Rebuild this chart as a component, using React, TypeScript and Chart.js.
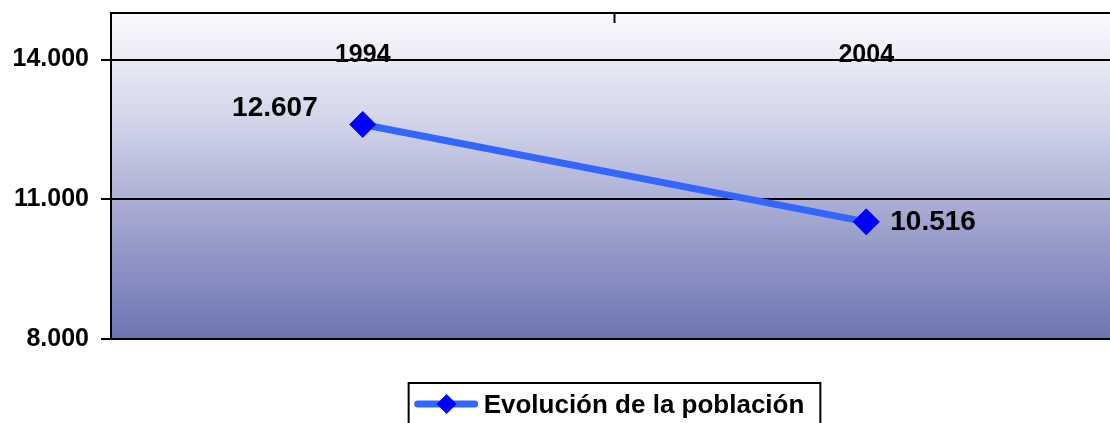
import React, { useEffect, useRef } from "react";
import { Chart, registerables } from "chart.js";

Chart.register(...registerables);

const categories = ["1994", "2004"];
const seriesName = "Evolución de la población";
const seriesValues = [12607, 10516];
const yTickValues = [8000, 11000, 14000];
const yMin = 8000;
const yMax = 15000;

const FONT = "'Liberation Sans', Arial, sans-serif";

function fmt(v: number): string {
  return String(Math.round(v)).replace(/\B(?=(\d{3})+(?!\d))/g, ".");
}

const decorPlugin = {
  id: "decor",
  afterLayout(chart: any) {
    const lg = chart.legend;
    if (lg) {
      lg.left = chart.chartArea.left;
      lg.right = chart.chartArea.right - 10;
    }
  },
  beforeDraw(chart: any) {
    const { ctx, chartArea } = chart;
    const g = ctx.createLinearGradient(0, chartArea.top, 0, chartArea.bottom);
    g.addColorStop(0, "#fbfbfe");
    g.addColorStop(0.33, "#d2d5e9");
    g.addColorStop(0.72, "#9499c8");
    g.addColorStop(1, "#6e76b2");
    ctx.save();
    ctx.fillStyle = g;
    ctx.fillRect(chartArea.left, chartArea.top, chartArea.right - chartArea.left, chartArea.bottom - chartArea.top);
    ctx.restore();
  },
  afterDatasetsDraw(chart: any) {
    const { ctx, chartArea } = chart;
    const x = chart.scales.x;
    ctx.save();
    ctx.strokeStyle = "#000";
    ctx.lineWidth = 2;
    ctx.beginPath();
    ctx.moveTo(chartArea.left - 1, chartArea.top);
    ctx.lineTo(chartArea.right, chartArea.top);
    ctx.stroke();
    const mid = (x.getPixelForValue(0) + x.getPixelForValue(1)) / 2;
    ctx.beginPath();
    ctx.moveTo(mid, chartArea.top);
    ctx.lineTo(mid, chartArea.top + 10);
    ctx.stroke();
    ctx.fillStyle = "#000";
    ctx.font = `bold 25px ${FONT}`;
    ctx.textAlign = "center";
    ctx.textBaseline = "alphabetic";
    categories.forEach((c, i) => {
      ctx.fillText(c, x.getPixelForValue(i), chartArea.top + 49);
    });
    const meta = chart.getDatasetMeta(0);
    ctx.font = `bold 28px ${FONT}`;
    ctx.textBaseline = "middle";
    meta.data.forEach((pt: any, i: number) => {
      const label = fmt(seriesValues[i]);
      if (i === 0) {
        ctx.textAlign = "right";
        ctx.fillText(label, pt.x - 45, pt.y - 16);
      } else {
        ctx.textAlign = "left";
        ctx.fillText(label, pt.x + 24, pt.y);
      }
    });
    ctx.restore();
  },
  afterDraw(chart: any) {
    const { ctx } = chart;
    const lg = chart.legend;
    if (!lg || !lg.legendHitBoxes || !lg.legendHitBoxes.length) return;
    const hb = lg.legendHitBoxes[0];
    ctx.save();
    ctx.strokeStyle = "#000";
    ctx.lineWidth = 2;
    ctx.strokeRect(hb.left - 6, hb.top - 10, hb.width + 22, hb.height + 40);
    const cy = hb.top + hb.height / 2 - 2;
    ctx.strokeStyle = "#3366ff";
    ctx.lineWidth = 7;
    ctx.lineCap = "round";
    ctx.beginPath();
    ctx.moveTo(hb.left + 3, cy);
    ctx.lineTo(hb.left + 60, cy);
    ctx.stroke();
    const dx = hb.left + 32;
    const r = 10;
    ctx.fillStyle = "#0000ff";
    ctx.beginPath();
    ctx.moveTo(dx - r, cy);
    ctx.lineTo(dx, cy - r);
    ctx.lineTo(dx + r, cy);
    ctx.lineTo(dx, cy + r);
    ctx.closePath();
    ctx.fill();
    ctx.restore();
  },
};

export default function App() {
  const ref = useRef<HTMLCanvasElement | null>(null);

  useEffect(() => {
    if (!ref.current) return;
    const chart = new Chart(ref.current, {
      type: "line",
      data: {
        labels: categories,
        datasets: [
          {
            label: seriesName,
            data: seriesValues,
            borderColor: "#3366ff",
            borderWidth: 7,
            pointStyle: "rectRot",
            pointRadius: 13,
            pointHoverRadius: 13,
            pointBackgroundColor: "#0000ff",
            pointBorderColor: "#0000ff",
            pointBorderWidth: 1,
            tension: 0,
            fill: false,
          },
        ],
      },
      options: {
        responsive: true,
        maintainAspectRatio: false,
        animation: false,
        layout: { autoPadding: false, padding: { top: 0, right: 4, left: 0, bottom: -6 } },
        scales: {
          x: {
            type: "category",
            display: false,
            offset: true,
            afterFit: (scale: any) => {
              scale.paddingLeft = 0;
              scale.paddingRight = 0;
            },
          },
          y: {
            min: yMin,
            max: yMax,
            afterBuildTicks: (scale: any) => {
              scale.ticks = yTickValues.map((v) => ({ value: v }));
            },
            afterFit: (scale: any) => {
              scale.width = 111;
              scale.paddingTop = 13;
              scale.paddingBottom = 0;
            },
            grid: {
              color: "#000",
              lineWidth: 2,
              tickLength: 10,
              tickColor: "#000",
            },
            border: { display: true, color: "#000", width: 2 },
            ticks: {
              color: "#000",
              padding: 12,
              font: { family: FONT, size: 25, weight: "bold", lineHeight: 1 },
              callback: (v: any) => fmt(Number(v)),
            },
          },
        },
        plugins: {
          tooltip: { enabled: false },
          legend: {
            display: true,
            position: "bottom",
            title: {
              display: true,
              text: " ",
              color: "#000",
              font: { size: 12, lineHeight: 1 },
              padding: { top: 41, bottom: 0 },
            },
            labels: {
              color: "#000",
              boxWidth: 56,
              padding: 1,
              font: { family: FONT, size: 26, weight: "bold" },
              generateLabels: (chart: any) =>
                chart.data.datasets.map((ds: any, i: number) => ({
                  text: ds.label,
                  fillStyle: "rgba(0,0,0,0)",
                  strokeStyle: "rgba(0,0,0,0)",
                  fontColor: "#000",
                  lineWidth: 0,
                  datasetIndex: i,
                  hidden: false,
                })),
            },
          },
        },
      },
      plugins: [decorPlugin],
    } as any);
    return () => chart.destroy();
  }, []);

  return (
    <div style={{ position: "absolute", left: 0, top: 0, width: 1110, height: 423, overflow: "hidden", background: "#fff" }}>
      <div style={{ position: "relative", width: 1122, height: 423 }}>
        <canvas ref={ref} />
      </div>
    </div>
  );
}
